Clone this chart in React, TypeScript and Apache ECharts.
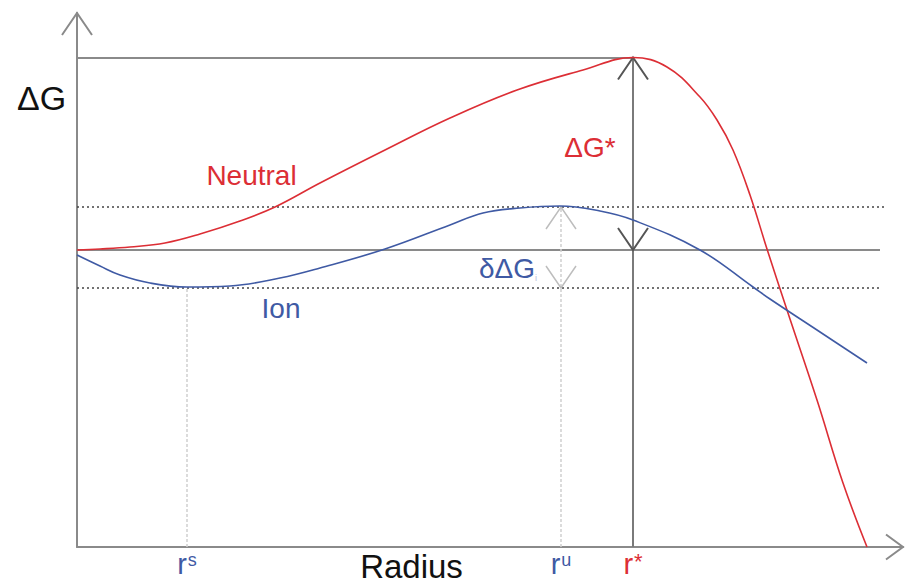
import React, { useEffect, useRef } from "react";
import * as echarts from "echarts";

// Radius (arbitrary units) and free energy ΔG (arbitrary units)
const neutralR = [0, 2.3, 5.3, 8.8, 12.3, 16.3, 19.8, 24.3, 30.8, 37.3, 44.0, 50.6, 55.6, 59.0, 62.3, 64.0, 65.6, 67.3, 69.0, 71.0, 74.0, 76.6, 79.0];
const neutralG = [29.7, 29.8, 30.0, 30.4, 31.3, 32.6, 34.0, 36.4, 39.7, 42.9, 45.7, 47.7, 48.95, 48.0, 45.0, 42.7, 39.7, 35.2, 29.8, 23.7, 14.7, 6.4, 0];
const ionR = [0, 2.3, 4.3, 7.3, 11.0, 15.3, 20.3, 24.3, 30.8, 37.3, 40.6, 44.3, 48.3, 52.3, 55.6, 62.3, 67.6, 69.3, 74.0, 79.0];
const ionG = [29.2, 28.1, 27.2, 26.4, 26.0, 26.1, 26.9, 27.9, 29.8, 32.2, 33.4, 33.9, 34.1, 33.6, 32.7, 29.7, 26.0, 24.8, 21.7, 18.4];

// Characteristic levels and radii
const levelNames = ["peak", "base", "ionMax", "ionMin"];
const levelValues = [48.95, 29.7, 34.0, 25.9];
const radiusNames = ["rS", "rU", "rStar"];
const radiusValues = [11.0, 48.4, 55.6];
const tickSup = ["s", "u", "*"];
const tickColorKey = ["b", "b", "r"];

const X_MAX = 82.6;
const Y_MAX = 53.4;

const RED = "#dc2e35";
const BLUE = "#3f5aa4";
const FONT = "'Liberation Sans', Arial, Helvetica, sans-serif";

export default function App() {
  const ref = useRef<HTMLDivElement>(null);
  useEffect(() => {
    if (!ref.current) return;
    const chart = echarts.init(ref.current, null, { renderer: "svg" });
    const lv = (n: string) => levelValues[levelNames.indexOf(n)];
    const rv = (n: string) => radiusValues[radiusNames.indexOf(n)];
    const peak = lv("peak"), base = lv("base"), ionMax = lv("ionMax"), ionMin = lv("ionMin");
    const rS = rv("rS"), rU = rv("rU"), rStar = rv("rStar");

    const solid = (c: string, w: number) => ({ color: c, width: w, type: "solid" as const, opacity: 1 });
    const dotted = (c: string, w: number, dash: number[]) => ({ color: c, width: w, type: dash, opacity: 1 });

    const refLines = [
      { coords: [[0, peak], [rStar, peak]], lineStyle: solid("#8a8a8a", 2) },
      { coords: [[0, base], [80.3, base]], lineStyle: solid("#8a8a8a", 2) },
      { coords: [[0, ionMax], [80.8, ionMax]], lineStyle: dotted("#444", 1.5, [2, 3]) },
      { coords: [[0, ionMin], [80.3, ionMin]], lineStyle: dotted("#444", 1.5, [2, 3]) },
      { coords: [[rStar, 0], [rStar, peak]], lineStyle: solid("#7a7a7a", 2) },
      { coords: [[rS, 0], [rS, ionMin]], lineStyle: dotted("#cfcfcf", 1.5, [3, 2]) },
      { coords: [[rU, 0], [rU, ionMax]], lineStyle: dotted("#cfcfcf", 1.5, [3, 2]) },
    ];

    const hw = 1.5, hh = 2.2;
    const up = (x: number, y: number) => [[x - hw, y - hh], [x, y], [x + hw, y - hh]];
    const down = (x: number, y: number) => [[x - hw, y + hh], [x, y], [x + hw, y + hh]];
    const arrows = [
      { coords: up(0, Y_MAX), lineStyle: solid("#8a8a8a", 2) },
      { coords: [[X_MAX - 1.7, 1.25], [X_MAX, 0], [X_MAX - 1.7, -1.25]], lineStyle: solid("#8a8a8a", 2) },
      { coords: up(rStar, peak), lineStyle: solid("#555", 2) },
      { coords: down(rStar, base), lineStyle: solid("#555", 2) },
      { coords: up(rU, ionMax), lineStyle: solid("#bdbdbd", 1.5) },
      { coords: down(rU, ionMin), lineStyle: solid("#bdbdbd", 1.5) },
    ];

    const annotations = [
      { name: "Neutral", value: [17.45, 37.2], color: RED, text: "Neutral" },
      { name: "Ion", value: [20.4, 23.9], color: BLUE, text: "Ion" },
      { name: "ΔG*", value: [51.3, 40.0], color: RED, text: "ΔG*" },
      { name: "δΔG", value: [43.1, 27.9], color: BLUE, text: "δΔG{s|i}" },
    ];

    chart.setOption({
      animation: false,
      grid: { left: 77, right: 3, top: 13, bottom: 36 },
      xAxis: {
        type: "value",
        min: 0,
        max: X_MAX,
        axisLine: { show: true, lineStyle: { color: "#8a8a8a", width: 2 } },
        axisTick: { show: false },
        splitLine: { show: false },
        axisLabel: {
          show: true,
          customValues: radiusValues,
          margin: 2,
          formatter: (v: number) => {
            let idx = 0;
            radiusValues.forEach((r, i) => { if (Math.abs(r - v) < Math.abs(radiusValues[idx] - v)) idx = i; });
            const k = tickColorKey[idx];
            return `{r${k}|r}{s${k}|${tickSup[idx]}}`;
          },
          rich: {
            rb: { color: BLUE, fontSize: 29, fontFamily: FONT, lineHeight: 30 },
            sb: { color: BLUE, fontSize: 18, fontFamily: FONT, verticalAlign: "top", padding: [2, 0, 0, 1] },
            rr: { color: RED, fontSize: 29, fontFamily: FONT, lineHeight: 30 },
            sr: { color: RED, fontSize: 22, fontFamily: FONT, verticalAlign: "top", padding: [1, 0, 0, 1] },
          },
        },
      },
      yAxis: {
        type: "value",
        min: 0,
        max: Y_MAX,
        axisLine: { show: true, lineStyle: { color: "#8a8a8a", width: 2 } },
        axisTick: { show: false },
        axisLabel: { show: false },
        splitLine: { show: false },
      },
      series: [
        {
          type: "lines",
          coordinateSystem: "cartesian2d",
          clip: false,
          silent: true,
          data: refLines,
          z: 1,
        },
        {
          type: "lines",
          coordinateSystem: "cartesian2d",
          polyline: true,
          clip: false,
          silent: true,
          data: arrows,
          z: 3,
        },
        {
          name: "Neutral",
          type: "line",
          data: neutralR.map((r, i) => [r, neutralG[i]]),
          smooth: 0.4,
          showSymbol: false,
          clip: false,
          lineStyle: { color: RED, width: 1.6 },
          z: 4,
        },
        {
          name: "Ion",
          type: "line",
          data: ionR.map((r, i) => [r, ionG[i]]),
          smooth: 0.4,
          showSymbol: false,
          clip: false,
          lineStyle: { color: BLUE, width: 1.6 },
          z: 4,
        },
        {
          type: "scatter",
          symbolSize: 0,
          silent: true,
          itemStyle: { opacity: 1 },
          data: annotations.map((a) => ({
            name: a.name,
            value: a.value,
            label: {
              show: true,
              position: "inside",
              formatter: a.text,
              color: a.color,
              opacity: 1,
              fontSize: 28,
              fontFamily: FONT,
              rich: { s: { fontSize: 9, color: "#b8c0dc", verticalAlign: "bottom" } },
            },
          })),
          z: 5,
        },
      ],
      graphic: [
        {
          type: "text",
          x: 41.5,
          y: 98,
          style: { text: "ΔG", fontSize: 34, fontFamily: FONT, fill: "#111", align: "center", verticalAlign: "middle" },
        },
        {
          type: "text",
          x: 411.5,
          y: 566,
          style: { text: "Radius", fontSize: 33, fontFamily: FONT, fill: "#111", align: "center", verticalAlign: "middle" },
        },
      ],
    });
    return () => chart.dispose();
  }, []);
  return (
    <div
      ref={ref}
      style={{ position: "fixed", left: 0, top: 0, width: 906, height: 583, background: "#fff" }}
    />
  );
}
